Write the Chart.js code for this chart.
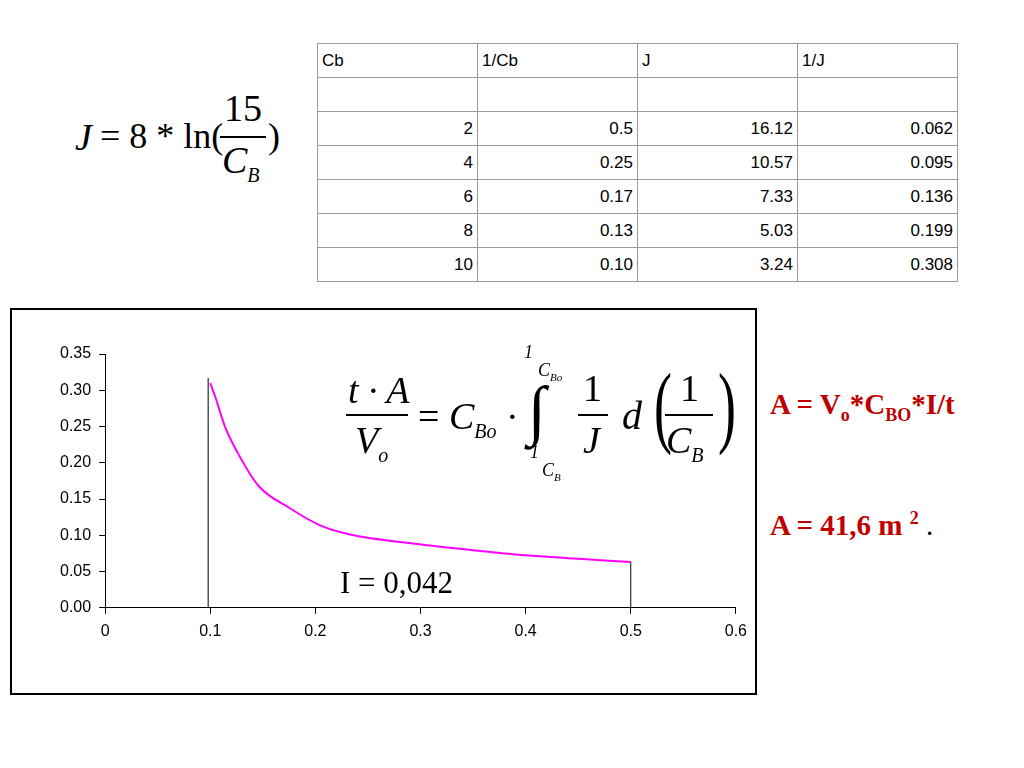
<!DOCTYPE html>
<html><head><meta charset="utf-8">
<script src="https://cdn.jsdelivr.net/npm/chart.js@4"></script>
<style>
body{margin:0;width:1024px;height:768px;background:#fff;position:relative;font-family:"Liberation Sans",Arial,sans-serif;overflow:hidden}
.a{position:absolute;white-space:nowrap}
table{position:absolute;left:317px;top:43px;border-collapse:collapse;font-size:17px}
td{border:1px solid #999;width:151px;height:33px;padding:0 4px;text-align:right}
tr:first-child td{text-align:left}
.tm{font-family:"Liberation Serif","Times New Roman",serif}
#box{position:absolute;left:10px;top:308px;width:743px;height:383px;border:2px solid #000}
.red{color:#c00000;font-weight:bold;font-size:29px}
</style></head><body>
<table id="tbl"></table>

<div class="a tm" style="left:75px;top:115px;font-size:38px;font-style:italic">J</div>
<div class="a tm" style="left:100px;top:115px;font-size:36px">= 8 * ln(</div>
<div class="a tm" style="left:224px;top:86px;font-size:38px">15</div>
<div class="a" style="left:220px;top:136px;width:46px;border-top:2px solid #000"></div>
<div class="a tm" style="left:222px;top:138px;font-size:38px;font-style:italic">C<sub style="font-size:20px">B</sub></div>
<div class="a tm" style="left:268px;top:115px;font-size:36px">)</div>

<div id="box"><canvas id="c" width="743" height="383"></canvas></div>

<div class="a tm" style="left:348px;top:368px;font-size:38px;font-style:italic">t · A</div>
<div class="a" style="left:346px;top:414px;width:62px;border-top:2px solid #000"></div>
<div class="a tm" style="left:355px;top:418px;font-size:38px;font-style:italic">V<sub style="font-size:20px">o</sub></div>
<div class="a tm" style="left:418px;top:394px;font-size:38px">= <i>C</i><sub style="font-size:20px;font-style:italic">Bo</sub> ·</div>
<div class="a tm" style="left:524px;top:342px;font-size:18px;font-style:italic">1</div>
<div class="a tm" style="left:538px;top:360px;font-size:18px;font-style:italic">C<sub style="font-size:11px">Bo</sub></div>
<div class="a tm" style="left:528px;top:372px;font-size:66px;font-style:italic">∫</div>
<div class="a tm" style="left:530px;top:442px;font-size:18px;font-style:italic">1</div>
<div class="a tm" style="left:542px;top:460px;font-size:18px;font-style:italic">C<sub style="font-size:11px">B</sub></div>
<div class="a tm" style="left:583px;top:366px;font-size:38px">1</div>
<div class="a" style="left:578px;top:414px;width:30px;border-top:2px solid #000"></div>
<div class="a tm" style="left:583px;top:418px;font-size:38px;font-style:italic">J</div>
<div class="a tm" style="left:622px;top:392px;font-size:40px;font-style:italic">d</div>
<div class="a tm" style="left:648px;top:354px;font-size:90px;transform:scaleX(0.6)">(</div>
<div class="a tm" style="left:680px;top:366px;font-size:38px">1</div>
<div class="a" style="left:665px;top:414px;width:48px;border-top:2px solid #000"></div>
<div class="a tm" style="left:666px;top:418px;font-size:38px;font-style:italic">C<sub style="font-size:20px">B</sub></div>
<div class="a tm" style="left:712px;top:354px;font-size:90px;transform:scaleX(0.6)">)</div>

<div class="a tm red" style="left:770px;top:388px">A = V<sub style="font-size:18px">o</sub>*C<sub style="font-size:18px">BO</sub>*I/t</div>
<div class="a tm red" style="left:770px;top:508px">A = 41,6 m <sup style="font-size:18px">2</sup> <span style="color:#000;font-weight:normal">.</span></div>
<div class="a tm" style="left:340px;top:565px;font-size:31px">I = 0,042</div>

<script>
var tableHead = ['Cb', '1/Cb', 'J', '1/J'];
var cbValues = ['2', '4', '6', '8', '10'];
var invCb = ['0.5', '0.25', '0.17', '0.13', '0.10'];
var jValues = ['16.12', '10.57', '7.33', '5.03', '3.24'];
var invJ = ['0.062', '0.095', '0.136', '0.199', '0.308'];

var curveX = [0.100, 0.105, 0.114, 0.126, 0.146, 0.175, 0.204, 0.233, 0.291, 0.340, 0.388, 0.447, 0.500];
var curveY = [0.310, 0.290, 0.250, 0.214, 0.168, 0.138, 0.114, 0.101, 0.089, 0.081, 0.074, 0.068, 0.063];
var limitX = [0.098, 0.500];
var limitTop = [0.317, 0.064];

var html = '<tr>' + tableHead.map(function (h) { return '<td>' + h + '</td>'; }).join('') + '</tr>';
html += '<tr><td></td><td></td><td></td><td></td></tr>';
for (var i = 0; i < cbValues.length; i++) {
    html += '<tr><td>' + cbValues[i] + '</td><td>' + invCb[i] + '</td><td>' + jValues[i] + '</td><td>' + invJ[i] + '</td></tr>';
}
document.getElementById('tbl').innerHTML = html;

var datasets = [{
    data: curveX.map(function (x, i) { return { x: x, y: curveY[i] }; }),
    showLine: true, borderColor: '#ff00ff', borderWidth: 2, pointRadius: 0, cubicInterpolationMode: 'monotone'
}];
limitX.forEach(function (x, i) {
    datasets.push({
        data: [{ x: x, y: 0 }, { x: x, y: limitTop[i] }],
        showLine: true, borderColor: '#000', borderWidth: 1, pointRadius: 0
    });
});

new Chart(document.getElementById('c'), {
    type: 'scatter',
    data: { datasets: datasets },
    options: {
        responsive: false, animation: false,
        layout: { padding: { left: 40, right: 18, top: 44, bottom: 44 } },
        plugins: { legend: { display: false }, tooltip: { enabled: false } },
        scales: {
            x: {
                min: 0, max: 0.6,
                ticks: { stepSize: 0.1, color: '#000', font: { size: 16 }, padding: 8, callback: function (v) { return v === 0 ? '0' : v.toFixed(1); } },
                grid: { drawOnChartArea: false, drawTicks: true, tickLength: 6, color: '#000' },
                border: { color: '#000' }
            },
            y: {
                min: 0, max: 0.35,
                ticks: { stepSize: 0.05, color: '#000', font: { size: 16 }, padding: 8, callback: function (v) { return v.toFixed(2); } },
                grid: { drawOnChartArea: false, tickLength: 6, color: '#000' },
                border: { color: '#000' }
            }
        }
    }
});
</script>
</body></html>
